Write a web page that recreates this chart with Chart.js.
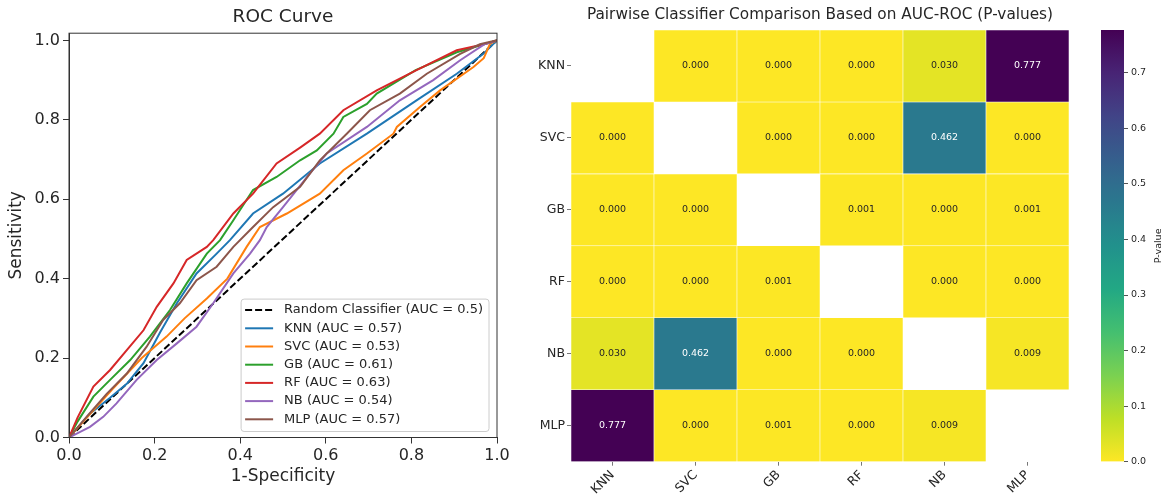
<!DOCTYPE html>
<html>
<head>
<meta charset="utf-8">
<script src="https://cdn.jsdelivr.net/npm/chart.js@4.4.0/dist/chart.umd.min.js"></script>
<style>
  html, body { margin: 0; padding: 0; background: #fff; }
  body { width: 1166px; height: 495px; position: relative; overflow: hidden; }
  canvas { position: absolute; top: 0; }
  #roc { left: 0; }
  #heat { left: 530px; }
  #cbar { left: 1080px; }
</style>
</head>
<body>
<canvas id="roc" width="530" height="495"></canvas>
<canvas id="heat" width="594" height="495"></canvas>
<canvas id="cbar" width="86" height="495"></canvas>
<script>
// ---- ROC curves ----
const randX = [0, 1];
const randY = [0, 1];
const knnX = [0, 0.049, 0.096, 0.135, 0.174, 0.213, 0.252, 0.298, 0.345, 0.376, 0.43, 0.5, 0.586, 0.696, 0.812, 0.906, 0.968, 1];
const knnY = [0, 0.06, 0.1, 0.135, 0.187, 0.265, 0.338, 0.413, 0.463, 0.497, 0.564, 0.614, 0.69, 0.765, 0.849, 0.916, 0.966, 1];
const svcX = [0, 0.05, 0.1, 0.17, 0.228, 0.27, 0.322, 0.37, 0.415, 0.446, 0.509, 0.586, 0.641, 0.696, 0.758, 0.766, 0.82, 0.867, 0.945, 0.969, 0.984, 1];
const svcY = [0, 0.06, 0.12, 0.2, 0.254, 0.3, 0.35, 0.4, 0.48, 0.53, 0.564, 0.614, 0.673, 0.715, 0.765, 0.782, 0.832, 0.874, 0.933, 0.955, 0.992, 1];
const gbX = [0, 0.02, 0.057, 0.096, 0.143, 0.189, 0.236, 0.275, 0.322, 0.353, 0.384, 0.43, 0.485, 0.54, 0.579, 0.618, 0.641, 0.696, 0.719, 0.81, 0.906, 1];
const gbY = [0, 0.04, 0.103, 0.145, 0.195, 0.254, 0.321, 0.388, 0.463, 0.497, 0.547, 0.623, 0.656, 0.698, 0.723, 0.765, 0.807, 0.84, 0.866, 0.925, 0.97, 1];
const rfX = [0, 0.02, 0.057, 0.096, 0.135, 0.174, 0.205, 0.244, 0.275, 0.322, 0.337, 0.384, 0.43, 0.485, 0.54, 0.586, 0.641, 0.719, 0.812, 0.906, 0.97, 1];
const rfY = [0, 0.05, 0.128, 0.17, 0.22, 0.27, 0.329, 0.388, 0.447, 0.48, 0.497, 0.564, 0.614, 0.69, 0.73, 0.765, 0.824, 0.874, 0.925, 0.975, 0.99, 1];
const nbX = [0, 0.049, 0.08, 0.111, 0.158, 0.205, 0.252, 0.298, 0.337, 0.384, 0.423, 0.446, 0.462, 0.5, 0.563, 0.602, 0.696, 0.773, 0.851, 0.914, 0.97, 1];
const nbY = [0, 0.027, 0.052, 0.086, 0.145, 0.195, 0.237, 0.279, 0.338, 0.413, 0.463, 0.497, 0.53, 0.58, 0.665, 0.715, 0.782, 0.849, 0.9, 0.95, 0.99, 1];
const mlpX = [0, 0.041, 0.088, 0.135, 0.181, 0.22, 0.259, 0.298, 0.345, 0.384, 0.43, 0.477, 0.54, 0.586, 0.649, 0.703, 0.773, 0.836, 0.914, 0.96, 1];
const mlpY = [0, 0.052, 0.11, 0.161, 0.228, 0.296, 0.338, 0.396, 0.43, 0.48, 0.53, 0.58, 0.631, 0.698, 0.765, 0.824, 0.866, 0.916, 0.966, 0.99, 1];
const rocTicks = [0, 0.2, 0.4, 0.6, 0.8, 1.0];

// ---- pairwise p-values ----
const classifiers = ['KNN', 'SVC', 'GB', 'RF', 'NB', 'MLP'];
const pKNN = [null, 0.000, 0.000, 0.000, 0.030, 0.777];
const pSVC = [0.000, null, 0.000, 0.000, 0.462, 0.000];
const pGB  = [0.000, 0.000, null, 0.001, 0.000, 0.001];
const pRF  = [0.000, 0.000, 0.001, null, 0.000, 0.000];
const pNB  = [0.030, 0.462, 0.000, 0.000, null, 0.009];
const pMLP = [0.777, 0.000, 0.001, 0.000, 0.009, null];
const pMax = 0.777;
const cbarTicks = [0, 0.1, 0.2, 0.3, 0.4, 0.5, 0.6, 0.7];

Chart.defaults.font.family = 'DejaVu Sans';
Chart.defaults.color = '#262626';

function pts(xs, ys) { return xs.map((x, i) => ({ x: x, y: ys[i] })); }

const curves = [
  { label: 'Random Classifier (AUC = 0.5)', data: pts(randX, randY), borderColor: '#000000', borderDash: [7, 3] },
  { label: 'KNN (AUC = 0.57)', data: pts(knnX, knnY), borderColor: '#1f77b4' },
  { label: 'SVC (AUC = 0.53)', data: pts(svcX, svcY), borderColor: '#ff7f0e' },
  { label: 'GB (AUC = 0.61)', data: pts(gbX, gbY), borderColor: '#2ca02c' },
  { label: 'RF (AUC = 0.63)', data: pts(rfX, rfY), borderColor: '#d62728' },
  { label: 'NB (AUC = 0.54)', data: pts(nbX, nbY), borderColor: '#9467bd' },
  { label: 'MLP (AUC = 0.57)', data: pts(mlpX, mlpY), borderColor: '#8c564b' }
];
curves.forEach((c, i) => {
  c.borderWidth = 2;
  c.pointRadius = 0;
  c.tension = 0;
  c.fill = false;
  c.order = curves.length - i; // later series on top, like matplotlib
});

// box round the plot + legend in the lower right corner
const rocExtras = {
  id: 'rocExtras',
  afterDraw(chart) {
    const ctx = chart.ctx, a = chart.chartArea;
    ctx.save();
    ctx.strokeStyle = '#333';
    ctx.lineWidth = 1;
    ctx.strokeRect(a.left, a.top, a.right - a.left, a.bottom - a.top);

    ctx.font = '13px DejaVu Sans';
    const sets = chart.data.datasets;
    let tw = 0;
    sets.forEach(d => { tw = Math.max(tw, ctx.measureText(d.label).width); });
    const rowH = 18.2;
    const w = 4 + 28 + 11 + tw + 6;
    const h = sets.length * rowH + 5;
    const right = a.right - 8, bottom = a.bottom - 6;
    const left = right - w, top = bottom - h;
    ctx.fillStyle = 'rgba(255,255,255,0.85)';
    ctx.strokeStyle = '#cccccc';
    ctx.beginPath();
    ctx.roundRect(left, top, w, h, 3);
    ctx.fill();
    ctx.stroke();
    sets.forEach((d, i) => {
      const cy = top + 11 + i * rowH;
      ctx.strokeStyle = d.borderColor;
      ctx.lineWidth = 2;
      ctx.setLineDash(d.borderDash || []);
      ctx.beginPath();
      ctx.moveTo(left + 4, cy);
      ctx.lineTo(left + 32, cy);
      ctx.stroke();
      ctx.setLineDash([]);
      ctx.fillStyle = '#262626';
      ctx.textBaseline = 'middle';
      ctx.textAlign = 'left';
      ctx.fillText(d.label, left + 43, cy);
    });
    ctx.restore();
  }
};

new Chart(document.getElementById('roc'), {
  type: 'line',
  data: { datasets: curves },
  options: {
    responsive: false,
    animation: false,
    layout: { padding: { left: 0, right: 33, top: 0, bottom: 0 } },
    plugins: {
      legend: { display: false },
      tooltip: { enabled: false },
      title: {
        display: true, text: 'ROC Curve', fullSize: false,
        font: { size: 18.5, weight: 'normal' }, color: '#262626',
        padding: { top: 6, bottom: 5 }
      }
    },
    scales: {
      x: {
        type: 'linear', min: 0, max: 1,
        afterBuildTicks: s => { s.ticks = rocTicks.map(v => ({ value: v })); },
        ticks: { callback: v => v.toFixed(1), font: { size: 16 }, color: '#262626', padding: 3, maxRotation: 0 },
        grid: { drawOnChartArea: false, tickLength: 6, tickColor: '#333' },
        border: { color: '#333' },
        title: { display: true, text: '1-Specificity', font: { size: 17 }, color: '#262626', padding: { top: 0, bottom: 8 } },
        afterFit: s => { s.height = 57.5; }
      },
      y: {
        type: 'linear', min: 0, max: 1.018,
        afterBuildTicks: s => { s.ticks = rocTicks.map(v => ({ value: v })); },
        ticks: { callback: v => v.toFixed(1), font: { size: 16 }, color: '#262626', padding: 3 },
        grid: { drawOnChartArea: false, tickLength: 6, tickColor: '#333' },
        border: { color: '#333' },
        title: { display: true, text: 'Sensitivity', font: { size: 17 }, color: '#262626', padding: { top: 6, bottom: 0 } },
        afterFit: s => { s.width = 69; }
      }
    }
  },
  plugins: [rocExtras]
});

// ---- viridis, reversed (0 -> yellow) ----
const viridisStops = ['#440154', '#482475', '#414487', '#355f8d', '#2a788e', '#21918c', '#22a884', '#44bf70', '#7ad151', '#bddf26', '#fde725'];
function hexRgb(h) { return [1, 3, 5].map(k => parseInt(h.substr(k, 2), 16)); }
function viridisR(t) {
  t = 1 - Math.min(1, Math.max(0, t));
  const p = t * 10, i = Math.min(9, Math.floor(p)), f = p - i;
  const a = hexRgb(viridisStops[i]), b = hexRgb(viridisStops[i + 1]);
  const c = a.map((v, k) => Math.round(v + (b[k] - v) * f));
  return 'rgb(' + c.join(',') + ')';
}

const pRows = [pKNN, pSVC, pGB, pRF, pNB, pMLP];

const cellText = {
  id: 'cellText',
  afterDatasetsDraw(chart) {
    const ctx = chart.ctx;
    ctx.save();
    ctx.font = '9.5px DejaVu Sans';
    ctx.textAlign = 'center';
    ctx.textBaseline = 'middle';
    chart.data.datasets.forEach((ds, r) => {
      chart.getDatasetMeta(r).data.forEach((el, c) => {
        const v = pRows[r][c];
        if (v === null) return;
        ctx.fillStyle = v / pMax > 0.4 ? '#ffffff' : '#262626';
        ctx.fillText(v.toFixed(3), el.x, (el.y + el.base) / 2);
      });
    });
    ctx.restore();
  }
};

new Chart(document.getElementById('heat'), {
  type: 'bar',
  data: {
    labels: classifiers,
    datasets: pRows.map((row, r) => ({
      label: classifiers[r],
      data: row.map(v => v === null ? null : [r, r + 1]),
      backgroundColor: row.map(v => v === null ? 'rgba(0,0,0,0)' : viridisR(v / pMax)),
      borderColor: '#ffffff',
      borderWidth: 0.6,
      borderSkipped: false,
      barPercentage: 1,
      categoryPercentage: 1,
      grouped: false
    }))
  },
  options: {
    responsive: false,
    animation: false,
    layout: { padding: { left: 0, right: 55, top: 0, bottom: 0 } },
    plugins: {
      legend: { display: false },
      tooltip: { enabled: false },
      title: {
        display: true, text: 'Pairwise Classifier Comparison Based on AUC-ROC (P-values)', fullSize: false,
        font: { size: 15.3, weight: 'normal' }, color: '#262626',
        padding: { top: 6, bottom: 5.6 }
      }
    },
    scales: {
      x: {
        type: 'category',
        ticks: { font: { size: 12.5 }, color: '#262626', minRotation: 45, maxRotation: 45, padding: 2 },
        grid: { offset: false, drawOnChartArea: false, tickLength: 4, tickColor: '#777' },
        border: { display: false },
        afterFit: s => { s.height = 33.3; }
      },
      y: {
        type: 'linear', min: 0, max: 6, reverse: true,
        afterBuildTicks: s => { s.ticks = classifiers.map((c, i) => ({ value: i + 0.5 })); },
        ticks: { callback: (v, i) => classifiers[i], font: { size: 12.5 }, color: '#262626', padding: 2 },
        grid: { drawOnChartArea: false, tickLength: 4, tickColor: '#777' },
        border: { display: false },
        afterFit: s => { s.width = 41; }
      }
    }
  },
  plugins: [cellText]
});

// ---- colour bar ----
const cbarLabel = {
  id: 'cbarLabel',
  afterDraw(chart) {
    const ctx = chart.ctx, a = chart.chartArea;
    ctx.save();
    ctx.translate(79, (a.top + a.bottom) / 2);
    ctx.rotate(-Math.PI / 2);
    ctx.font = '9.5px DejaVu Sans';
    ctx.fillStyle = '#262626';
    ctx.textAlign = 'center';
    ctx.textBaseline = 'middle';
    ctx.fillText('P-value', 0, 0);
    ctx.restore();
  }
};

new Chart(document.getElementById('cbar'), {
  type: 'bar',
  data: {
    labels: ['P-value'],
    datasets: [{
      data: [[0, pMax]],
      backgroundColor: ctx => {
        const chart = ctx.chart, a = chart.chartArea;
        if (!a) return null;
        const y = chart.scales.y;
        const g = chart.ctx.createLinearGradient(0, y.getPixelForValue(0), 0, y.getPixelForValue(pMax));
        for (let k = 0; k <= 20; k++) g.addColorStop(k / 20, viridisR(k / 20));
        return g;
      },
      borderWidth: 0,
      barPercentage: 1,
      categoryPercentage: 1
    }]
  },
  options: {
    responsive: false,
    animation: false,
    layout: { padding: { left: 21, right: 0, top: 30, bottom: 33.3 } },
    plugins: { legend: { display: false }, tooltip: { enabled: false } },
    scales: {
      x: { display: false },
      y: {
        position: 'right', min: 0, max: pMax,
        afterBuildTicks: s => { s.ticks = cbarTicks.map(v => ({ value: v })); },
        ticks: { callback: v => v.toFixed(1), font: { size: 9.5 }, color: '#262626', padding: 3 },
        grid: { drawOnChartArea: false, tickLength: 4, tickColor: '#555' },
        border: { display: false },
        afterFit: s => { s.width = 42; }
      }
    }
  },
  plugins: [cbarLabel]
});
</script>
</body>
</html>
